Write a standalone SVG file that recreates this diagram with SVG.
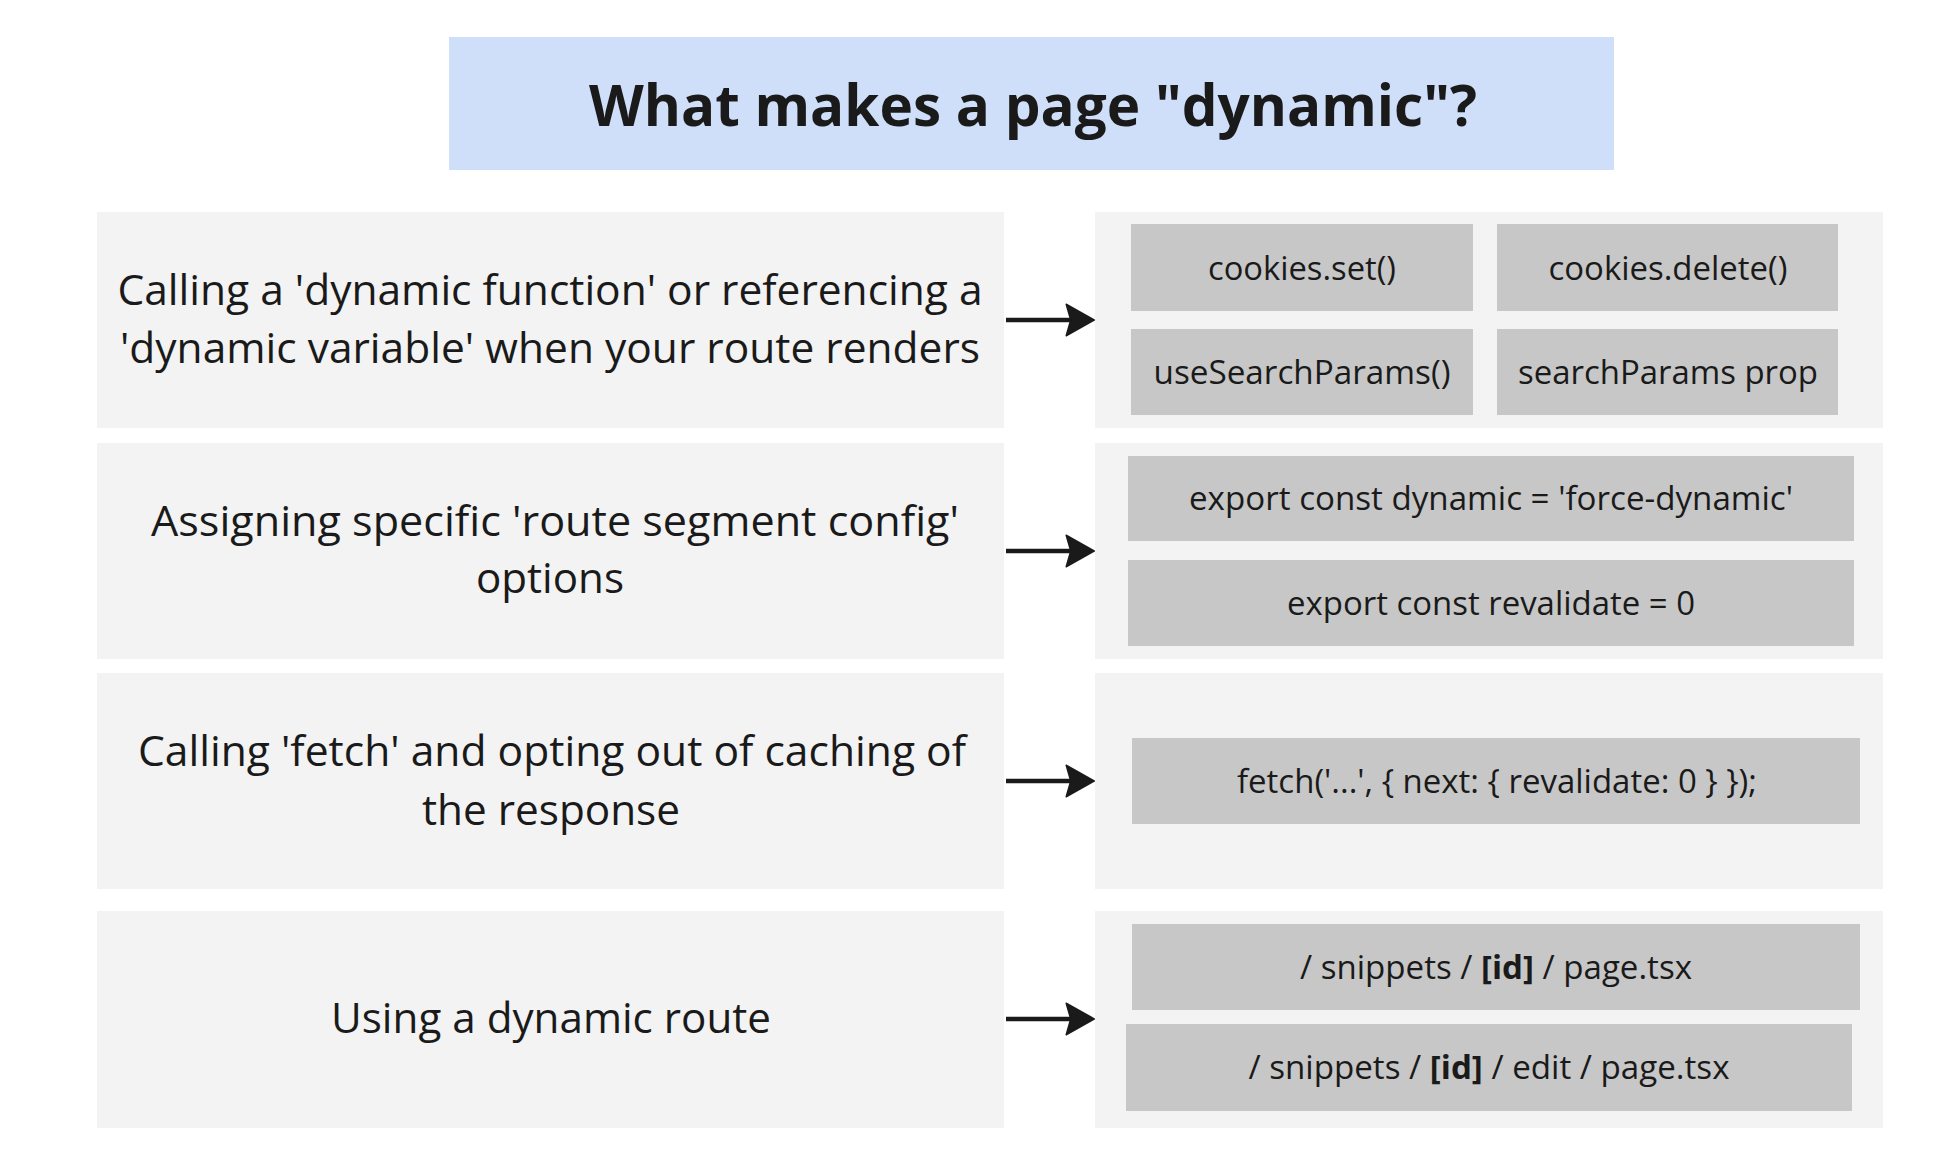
<svg xmlns="http://www.w3.org/2000/svg" width="1936" height="1174" viewBox="0 0 1936 1174">
<style>
  .bg { fill: #ffffff; }
  .title-box { fill: #cfdef9; }
  .title { font-family: "Open Sans", "Noto Sans", "Liberation Sans", sans-serif; font-weight: 700; font-size: 58px; fill: #1a1a1a; text-anchor: middle; }
  .panel { fill: #f3f3f3; }
  .chip { fill: #c7c7c7; }
  .lt { font-family: "Open Sans", "Noto Sans", "Liberation Sans", sans-serif; font-size: 42.5px; fill: #1a1a1a; text-anchor: middle; }
  .ct { font-family: "Open Sans", "Noto Sans", "Liberation Sans", sans-serif; font-size: 33px; fill: #1a1a1a; text-anchor: middle; }
  .b { font-weight: 700; }
  .conn { stroke: #1a1a1a; stroke-width: 4.5; fill: none; }
</style>
<defs>
  <marker id="ah" viewBox="0 0 30 34" refX="15" refY="17" markerWidth="30" markerHeight="34" markerUnits="userSpaceOnUse" orient="auto">
    <path d="M1.5,1.5 L29,17 L1.5,32.5 L6,17 Z" fill="#1a1a1a" stroke="#1a1a1a" stroke-width="2" stroke-linejoin="round"/>
  </marker>
</defs>
<rect class="bg" x="0" y="0" width="1936" height="1174"/>

<g id="title">
  <rect class="title-box" x="449" y="37" width="1165" height="133"/>
  <text class="title" x="1033" y="126" textLength="888" lengthAdjust="spacingAndGlyphs">What makes a page "dynamic"?</text>
</g>

<g id="cause-dynamic-function">
  <rect class="panel" x="97" y="212" width="907" height="216"/>
  <text class="lt" x="550" y="305" textLength="865" lengthAdjust="spacingAndGlyphs">Calling a 'dynamic function' or referencing a</text>
  <text class="lt" x="550" y="363" textLength="860" lengthAdjust="spacingAndGlyphs">'dynamic variable' when your route renders</text>
</g>
<g id="examples-dynamic-function">
  <rect class="panel" x="1095" y="212" width="788" height="216"/>
  <g id="chip-cookies-set">
    <rect class="chip" x="1131" y="224" width="342" height="87"/>
    <text class="ct" x="1302" y="280" textLength="188" lengthAdjust="spacingAndGlyphs">cookies.set()</text>
  </g>
  <g id="chip-cookies-delete">
    <rect class="chip" x="1497" y="224" width="341" height="87"/>
    <text class="ct" x="1668" y="280" textLength="239" lengthAdjust="spacingAndGlyphs">cookies.delete()</text>
  </g>
  <g id="chip-usesearchparams">
    <rect class="chip" x="1131" y="329" width="342" height="86"/>
    <text class="ct" x="1302" y="384" textLength="297" lengthAdjust="spacingAndGlyphs">useSearchParams()</text>
  </g>
  <g id="chip-searchparams-prop">
    <rect class="chip" x="1497" y="329" width="341" height="86"/>
    <text class="ct" x="1668" y="384" textLength="300" lengthAdjust="spacingAndGlyphs">searchParams prop</text>
  </g>
</g>

<g id="cause-route-segment-config">
  <rect class="panel" x="97" y="443" width="907" height="216"/>
  <text class="lt" x="555" y="536" textLength="808" lengthAdjust="spacingAndGlyphs">Assigning specific 'route segment config'</text>
  <text class="lt" x="550" y="593" textLength="148" lengthAdjust="spacingAndGlyphs">options</text>
</g>
<g id="examples-route-segment-config">
  <rect class="panel" x="1095" y="443" width="788" height="216"/>
  <g id="chip-force-dynamic">
    <rect class="chip" x="1128" y="456" width="726" height="85"/>
    <text class="ct" x="1491" y="510" textLength="604" lengthAdjust="spacingAndGlyphs">export const dynamic = 'force-dynamic'</text>
  </g>
  <g id="chip-revalidate">
    <rect class="chip" x="1128" y="560" width="726" height="86"/>
    <text class="ct" x="1491" y="615" textLength="408" lengthAdjust="spacingAndGlyphs">export const revalidate = 0</text>
  </g>
</g>

<g id="cause-fetch">
  <rect class="panel" x="97" y="673" width="907" height="216"/>
  <text class="lt" x="552" y="766" textLength="828" lengthAdjust="spacingAndGlyphs">Calling 'fetch' and opting out of caching of</text>
  <text class="lt" x="551" y="825" textLength="258" lengthAdjust="spacingAndGlyphs">the response</text>
</g>
<g id="examples-fetch">
  <rect class="panel" x="1095" y="673" width="788" height="216"/>
  <g id="chip-fetch">
    <rect class="chip" x="1132" y="738" width="728" height="86"/>
    <text class="ct" x="1497" y="793" textLength="520" lengthAdjust="spacingAndGlyphs">fetch('...', { next: { revalidate: 0 } });</text>
  </g>
</g>

<g id="cause-dynamic-route">
  <rect class="panel" x="97" y="911" width="907" height="217"/>
  <text class="lt" x="551" y="1033" textLength="440" lengthAdjust="spacingAndGlyphs">Using a dynamic route</text>
</g>
<g id="examples-dynamic-route">
  <rect class="panel" x="1095" y="911" width="788" height="217"/>
  <g id="chip-page">
    <rect class="chip" x="1132" y="924" width="728" height="86"/>
    <text class="ct" x="1496" y="979" textLength="392" lengthAdjust="spacingAndGlyphs">/ snippets / <tspan class="b">[id]</tspan> / page.tsx</text>
  </g>
  <g id="chip-edit-page">
    <rect class="chip" x="1126" y="1024" width="726" height="87"/>
    <text class="ct" x="1489" y="1079" textLength="481" lengthAdjust="spacingAndGlyphs">/ snippets / <tspan class="b">[id]</tspan> / edit / page.tsx</text>
  </g>
</g>

<g id="connectors">
  <line class="conn" x1="1006" y1="320" x2="1080" y2="320" marker-end="url(#ah)"/>
  <line class="conn" x1="1006" y1="551" x2="1080" y2="551" marker-end="url(#ah)"/>
  <line class="conn" x1="1006" y1="781" x2="1080" y2="781" marker-end="url(#ah)"/>
  <line class="conn" x1="1006" y1="1019" x2="1080" y2="1019" marker-end="url(#ah)"/>
</g>
</svg>
